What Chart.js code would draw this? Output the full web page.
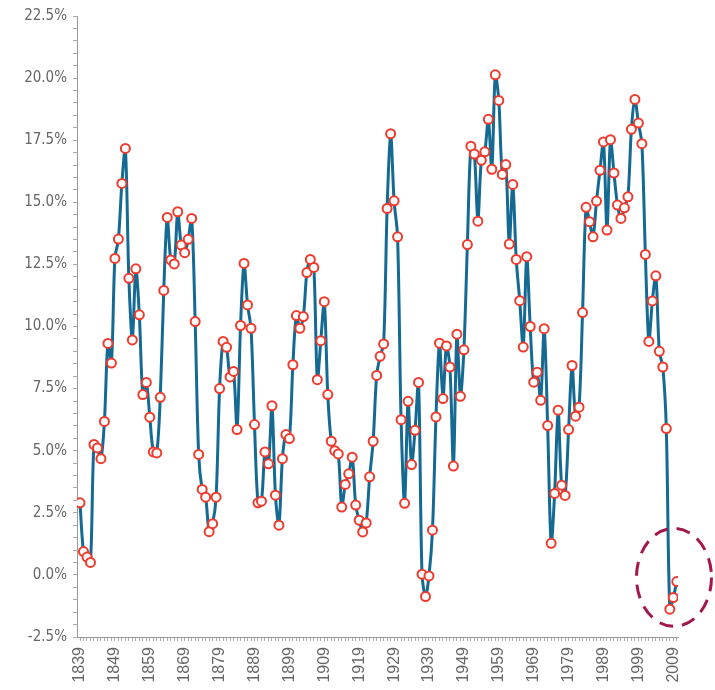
<!DOCTYPE html>
<html>
<head>
<meta charset="utf-8">
<script src="https://cdn.jsdelivr.net/npm/chart.js@4"></script>
<style>
  html, body { margin: 0; padding: 0; background: #ffffff; }
  #wrap { width: 715px; height: 690px; }
</style>
</head>
<body>
<div id="wrap"><canvas id="c" width="715" height="690"></canvas></div>
<script>
// ---- data ----
const firstYear = 1839;
const returns = [
  2.90, 0.94, 0.72, 0.50, 5.25, 5.11, 4.68, 6.18, 9.32, 8.53,          // 1839-1848
  12.74, 13.52, 15.76, 17.17, 11.94, 9.46, 12.32, 10.47, 7.26, 7.75,   // 1849-1858
  6.35, 4.95, 4.91, 7.15, 11.45, 14.39, 12.68, 12.52, 14.62, 13.28,    // 1859-1868
  12.97, 13.51, 14.35, 10.20, 4.85, 3.44, 3.13, 1.74, 2.06, 3.13,      // 1869-1878
  7.50, 9.40, 9.16, 7.97, 8.19, 5.85, 10.04, 12.54, 10.87, 9.93,       // 1879-1888
  6.05, 2.90, 2.97, 4.95, 4.47, 6.81, 3.21, 2.00, 4.68, 5.65,          // 1889-1898
  5.49, 8.46, 10.44, 9.93, 10.40, 12.17, 12.70, 12.38, 7.86, 9.43,     // 1899-1908
  11.00, 7.26, 5.38, 5.00, 4.87, 2.73, 3.64, 4.07, 4.74, 2.81,         // 1909-1918
  2.20, 1.73, 2.09, 3.95, 5.38, 8.03, 8.80, 9.30, 14.75, 17.76,        // 1919-1928
  15.06, 13.61, 6.25, 2.88, 6.99, 4.44, 5.82, 7.75, 0.03, -0.87,       // 1929-1938
  -0.04, 1.80, 6.36, 9.33, 7.10, 9.22, 8.37, 4.38, 9.69, 7.19,         // 1939-1948
  9.06, 13.30, 17.26, 16.94, 14.24, 16.69, 17.03, 18.34, 16.33, 20.13, // 1949-1958
  19.10, 16.12, 16.52, 13.32, 15.72, 12.70, 11.04, 9.17, 12.81, 10.00, // 1959-1968
  7.76, 8.16, 7.03, 9.91, 6.01, 1.27, 3.28, 6.63, 3.61, 3.20,          // 1969-1978
  5.85, 8.43, 6.39, 6.75, 10.56, 14.80, 14.22, 13.61, 15.05, 16.29,    // 1979-1988
  17.43, 13.88, 17.52, 16.18, 14.89, 14.35, 14.78, 15.22, 17.94, 19.14,// 1989-1998
  18.19, 17.36, 12.90, 9.40, 11.03, 12.04, 9.00, 8.37, 5.89, -1.38,    // 1999-2008
  -0.91, -0.27                                                          // 2009-2010
];
const years = returns.map((_, i) => firstYear + i);
const xLabelYears = [1839, 1849, 1859, 1869, 1879, 1889, 1899, 1909, 1919, 1929, 1939, 1949, 1959, 1969, 1979, 1989, 1999, 2009];
const yMajorTicks = [-2.5, 0, 2.5, 5, 7.5, 10, 12.5, 15, 17.5, 20, 22.5];
const yMinorStep = 0.5;
// highlighted (circled) point region, in data units
const highlightCenter = { year: 2009.2, value: -0.1 };

const points = years.map((y, i) => ({ x: y, y: returns[i] }));

const FONT_Y = "'Liberation Sans Narrow', 'DejaVu Sans Condensed', 'Liberation Sans', sans-serif";
const FONT_X = "'Liberation Sans', Arial, sans-serif";

const ellipsePlugin = {
  id: 'ellipse',
  afterDraw(chart) {
    const { ctx, scales } = chart;
    const cx = scales.x.getPixelForValue(highlightCenter.year);
    const cy = scales.y.getPixelForValue(highlightCenter.value);
    ctx.save();
    ctx.beginPath();
    ctx.ellipse(cx, cy, 37.5, 49, 0, 0, Math.PI * 2);
    ctx.setLineDash([14, 9]);
    ctx.lineWidth = 3;
    ctx.strokeStyle = '#a3174f';
    ctx.stroke();
    ctx.restore();
  }
};

new Chart(document.getElementById('c'), {
  type: 'line',
  data: {
    datasets: [{
      data: points,
      borderColor: '#156a93',
      borderWidth: 3,
      tension: 0.3,
      pointRadius: 4.5,
      pointHoverRadius: 4.5,
      pointBorderWidth: 2,
      pointBackgroundColor: '#ffffff',
      pointBorderColor: '#ee3b2d',
      fill: false
    }]
  },
  options: {
    responsive: false,
    animation: false,
    devicePixelRatio: 1,
    layout: { padding: { top: 16, right: 37, left: 0, bottom: 0 } },
    plugins: { legend: { display: false }, tooltip: { enabled: false } },
    scales: {
      x: {
        type: 'linear',
        min: 1838.14,
        max: 2010.35,
        afterBuildTicks(scale) {
          scale.ticks = years.map(v => ({ value: v }));
        },
        afterFit(scale) { scale.height = 53; },
        ticks: {
          autoSkip: false,
          minRotation: 90,
          maxRotation: 90,
          padding: 6,
          color: '#666666',
          font: { family: FONT_X, size: 16 },
          callback: (v) => xLabelYears.includes(v) ? String(v) : ''
        },
        grid: { display: true, drawOnChartArea: false, drawTicks: true, tickLength: 4, tickColor: '#aaaaaa' },
        border: { display: true, color: '#999999', width: 1 }
      },
      y: {
        type: 'linear',
        min: -2.5,
        max: 22.5,
        afterBuildTicks(scale) {
          const t = [];
          for (let v = -2.5; v <= 22.5 + 1e-9; v += yMinorStep) t.push({ value: Math.round(v * 10) / 10 });
          scale.ticks = t;
        },
        afterFit(scale) { scale.width = 77; },
        ticks: {
          autoSkip: false,
          padding: 6,
          color: '#666666',
          font: { family: FONT_Y, size: 15 },
          callback: (v) => yMajorTicks.includes(v) ? v.toFixed(1) + '%' : ''
        },
        grid: { display: true, drawOnChartArea: false, drawTicks: true, tickLength: 4, tickColor: '#aaaaaa' },
        border: { display: true, color: '#999999', width: 1 }
      }
    }
  },
  plugins: [ellipsePlugin]
});
</script>
</body>
</html>
